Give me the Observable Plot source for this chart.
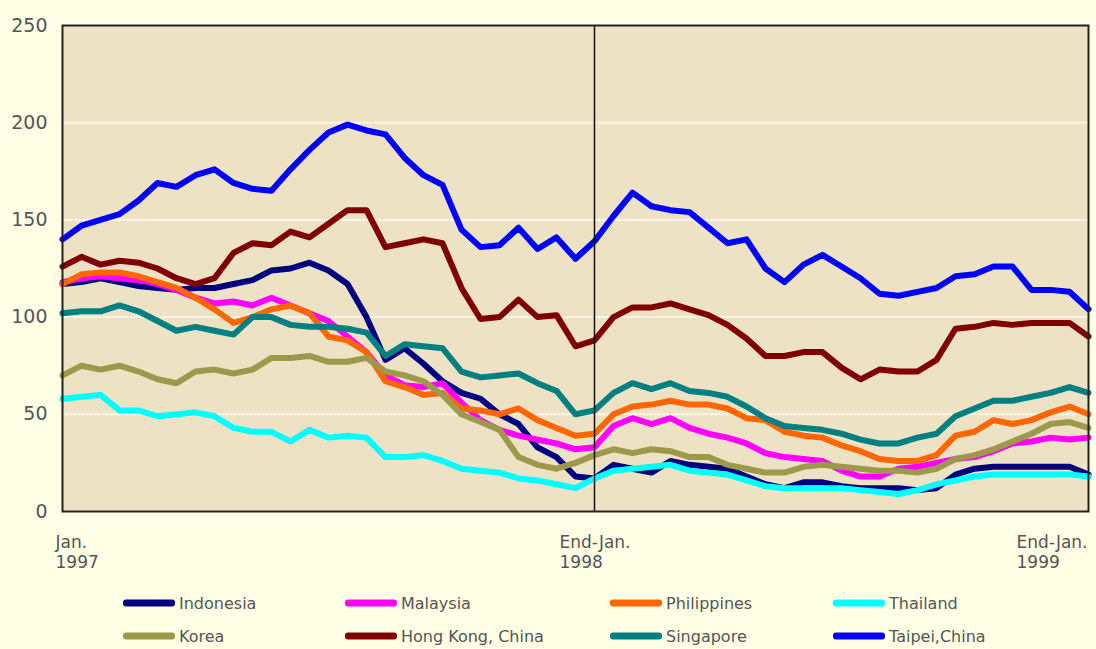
<!DOCTYPE html>
<html><head><meta charset="utf-8">
<script src="https://cdn.jsdelivr.net/npm/d3@7"></script>
<script src="https://cdn.jsdelivr.net/npm/@observablehq/plot@0.6"></script>
<style>
body{margin:0;background:#FFFFE6;font-family:"DejaVu Sans",sans-serif;}
#chart{width:1096px;height:580px;}
#legend{position:relative;width:1096px;height:69px;}
.item{position:absolute;display:flex;align-items:center;font-size:16px;color:#555;transform:translateY(-50%);white-space:nowrap;}
.sw{width:52px;height:7px;border-radius:3px;margin-right:4px;}
</style></head><body><div id="chart"></div><div id="legend"></div>
<script>
const dates = ["1997-01-03","1997-01-17","1997-01-31","1997-02-14","1997-02-28","1997-03-14","1997-03-28","1997-04-11","1997-04-25","1997-05-09","1997-05-23","1997-06-06","1997-06-20","1997-07-04","1997-07-18","1997-08-01","1997-08-15","1997-08-29","1997-09-12","1997-09-26","1997-10-10","1997-10-24","1997-11-07","1997-11-21","1997-12-05","1997-12-19","1998-01-02","1998-01-16","1998-01-30","1998-02-13","1998-02-27","1998-03-13","1998-03-27","1998-04-10","1998-04-24","1998-05-08","1998-05-22","1998-06-05","1998-06-19","1998-07-03","1998-07-17","1998-07-31","1998-08-14","1998-08-28","1998-09-11","1998-09-25","1998-10-09","1998-10-23","1998-11-06","1998-11-20","1998-12-04","1998-12-18","1999-01-01","1999-01-15","1999-01-29"];

const indonesia   = [117,118,120,118,116,115,114,115,115,117,119,124,125,128,124,117,100,78,84,76,67,61,58,50,45,33,28,18,17,24,22,20,26,24,23,22,18,14,12,15,15,13,12,12,12,11,12,19,22,23,23,23,23,23,19];
const malaysia    = [118,120,121,120,119,117,114,110,107,108,106,110,106,102,98,90,82,70,65,64,66,56,47,42,39,37,35,32,33,44,48,45,48,43,40,38,35,30,28,27,26,21,18,18,22,23,25,27,28,31,35,36,38,37,38];
const philippines = [117,122,123,123,121,118,115,110,104,97,100,104,106,102,90,88,82,67,64,60,61,53,52,50,53,47,43,39,40,50,54,55,57,55,55,53,48,47,41,39,38,34,31,27,26,26,29,39,41,47,45,47,51,54,50];
const thailand    = [58,59,60,52,52,49,50,51,49,43,41,41,36,42,38,39,38,28,28,29,26,22,21,20,17,16,14,12,17,21,22,23,24,21,20,19,16,13,12,12,12,12,11,10,9,11,14,16,18,19,19,19,19,19,18];
const korea       = [70,75,73,75,72,68,66,72,73,71,73,79,79,80,77,77,79,72,70,67,60,50,46,42,28,24,22,25,29,32,30,32,31,28,28,24,22,20,20,23,24,23,22,21,21,20,22,27,29,32,36,40,45,46,43];
const hongKong    = [126,131,127,129,128,125,120,117,120,133,138,137,144,141,148,155,155,136,138,140,138,115,99,100,109,100,101,85,88,100,105,105,107,104,101,96,89,80,80,82,82,74,68,73,72,72,78,94,95,97,96,97,97,97,90];
const singapore   = [102,103,103,106,103,98,93,95,93,91,100,100,96,95,95,94,92,80,86,85,84,72,69,70,71,66,62,50,52,61,66,63,66,62,61,59,54,48,44,43,42,40,37,35,35,38,40,49,53,57,57,59,61,64,61];
const taipei      = [140,147,150,153,160,169,167,173,176,169,166,165,176,186,195,199,196,194,182,173,168,145,136,137,146,135,141,130,139,152,164,157,155,154,146,138,140,125,118,127,132,126,120,112,111,113,115,121,122,126,126,114,114,113,104];

const seriesNames  = ["Indonesia","Malaysia","Philippines","Thailand","Korea","Hong Kong, China","Singapore","Taipei,China"];
const seriesColors = ["#000080","#FF00FF","#FF6600","#00FFFF","#9C9A4A","#800000","#008080","#0000FF"];
const seriesValues = [indonesia, malaysia, philippines, thailand, korea, hongKong, singapore, taipei];

const yTicks = [0,50,100,150,200,250];
const gridValues = [50,100,150,200];
const xTickDates = ["1997-01-03","1998-01-30","1999-01-29"];
const xTickLabels = ["Jan.\n1997","End-Jan.\n1998","End-Jan.\n1999"];
const dividerDate = "1998-01-30";

const rows = seriesNames.flatMap((name, s) =>
  dates.map((d, i) => ({date: new Date(d), value: seriesValues[s][i], country: name})));

const tickLabel = (k, dx) => Plot.text([k], {
  x: i => new Date(xTickDates[i]), y: () => 0, text: i => xTickLabels[i],
  textAnchor: "start", lineAnchor: "top", dx, dy: 23, fontSize: 17, fill: "#555", lineHeight: 1.15,
  letterSpacing: "0.7px"
});

const chart = Plot.plot({
  width: 1096, height: 580,
  marginLeft: 62, marginRight: 8, marginTop: 25, marginBottom: 69,
  style: {background: "transparent", fontFamily: "DejaVu Sans, sans-serif", color: "#555"},
  x: {type: "utc", axis: null, domain: [new Date(dates[0]), new Date(dates[dates.length - 1])]},
  y: {domain: [0, 250], axis: null},
  color: {domain: seriesNames, range: seriesColors},
  marks: [
    Plot.frame({fill: "#EEE2C4", stroke: null}),
    Plot.ruleY(gridValues, {stroke: "#FBFBF0", strokeWidth: 2, strokeDasharray: "3,1"}),
    Plot.text(yTicks, {x: () => new Date(dates[0]), y: d => d, text: d => String(d), textAnchor: "end", dx: -15, fontSize: 19, fill: "#555", letterSpacing: "0.5px"}),
    Plot.line(rows, {x: "date", y: "value", z: "country", stroke: "country", strokeWidth: 6, strokeLinejoin: "round", strokeLinecap: "round"}),
    Plot.ruleX([new Date(dividerDate)], {stroke: "#111", strokeWidth: 1.5}),
    Plot.frame({stroke: "#222", strokeWidth: 2}),
    tickLabel(0, -7),
    tickLabel(1, -35),
    tickLabel(2, -72)
  ]
});
document.getElementById("chart").appendChild(chart);

const legendLeft = [123, 345, 610, 833];
const legendTop = [23, 56];
const legend = document.getElementById("legend");
seriesNames.forEach((name, s) => {
  const item = document.createElement("div");
  item.className = "item";
  item.style.left = legendLeft[s % 4] + "px";
  item.style.top = legendTop[Math.floor(s / 4)] + "px";
  const sw = document.createElement("div");
  sw.className = "sw";
  sw.style.background = seriesColors[s];
  const lab = document.createElement("span");
  lab.textContent = name;
  item.appendChild(sw); item.appendChild(lab);
  legend.appendChild(item);
});
</script></body></html>
